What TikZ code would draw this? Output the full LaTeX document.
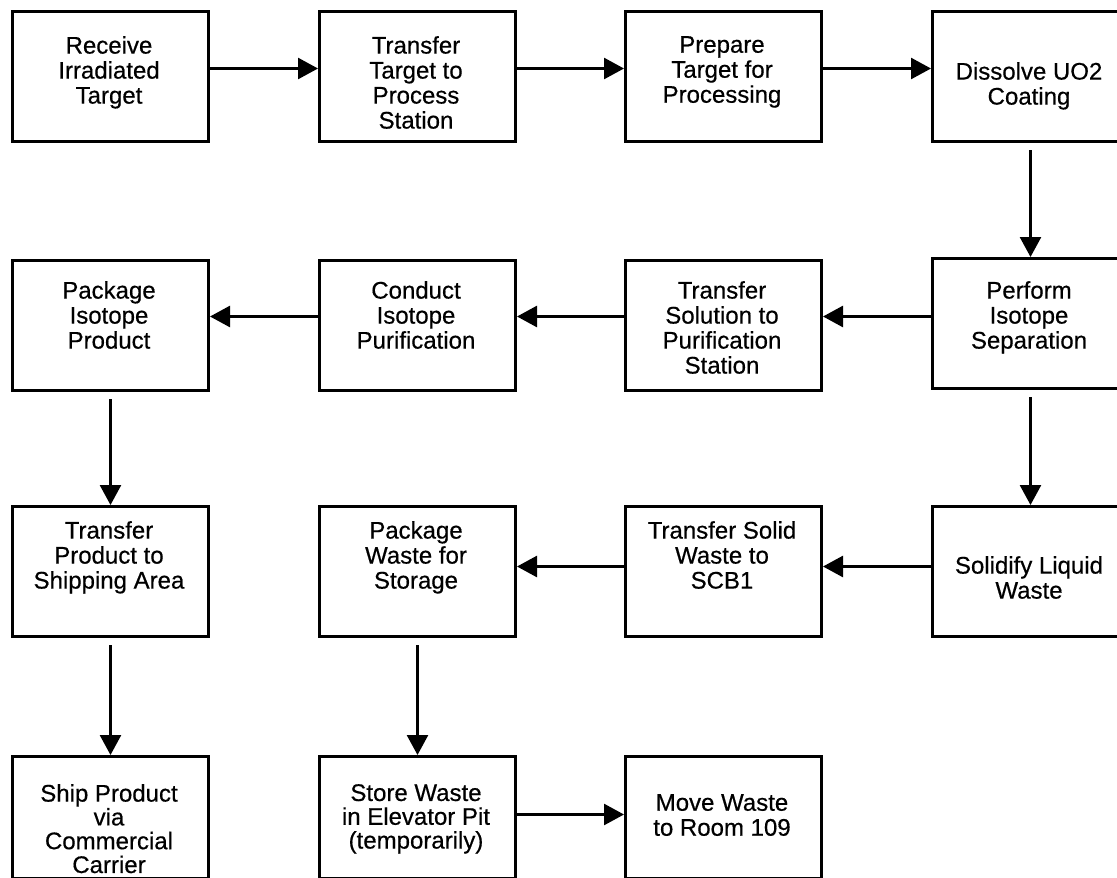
\documentclass[tikz,border=0pt]{standalone}
\usepackage{fontspec}
\setmainfont{Liberation Sans}[FakeBold=0.5]
\usetikzlibrary{arrows.meta}
\begin{document}
\begin{tikzpicture}[x=1pt,y=-1pt,
  box/.style={draw=black, line width=3pt, minimum width=196pt, minimum height=130pt, inner sep=0pt, anchor=north west},
  lastbox/.style={box, minimum height=122pt},
  txt/.style={font=\fontsize{24}{25}\selectfont, align=center, anchor=north, inner sep=0pt},
  tighttxt/.style={txt, font=\fontsize{24}{23.8}\selectfont},
  arr/.style={line width=2.6pt, -{Triangle[length=20pt,width=21pt]}},
  varr/.style={arr, shorten <=7pt}]
\useasboundingbox (0,0) rectangle (1117,878);
\clip (0,0) rectangle (1117,878);
% row 1
\node[box] (b11) at (11,10) {};
\node[box] (b12) at (318,10) {};
\node[box] (b13) at (624,10) {};
\node[box] (b14) at (931,10) {};
% row 2
\node[box] (b21) at (11,259) {};
\node[box] (b22) at (318,259) {};
\node[box] (b23) at (624,259) {};
\node[box] (b24) at (931,257) {};
% row 3
\node[box] (b31) at (11,505) {};
\node[box] (b32) at (318,505) {};
\node[box] (b33) at (624,505) {};
\node[box] (b34) at (931,505) {};
% row 4
\node[lastbox] (b41) at (11,755) {};
\node[lastbox] (b42) at (318,755) {};
\node[lastbox] (b43) at (624,755) {};
% texts
\node[txt] (t11) at (109,36) {Receive\\Irradiated\\Target};
\node[txt] (t12) at (416,36) {Transfer\\Target to\\Process\\Station};
\node[txt] (t13) at (722,36) {Prepare\\Target for\\Processing};
\node[txt] (t14) at (1029,62) {Dissolve UO2\\Coating};
\node[txt] (t21) at (109,281) {Package\\Isotope\\Product};
\node[txt] (t22) at (416,281) {Conduct\\Isotope\\Purification};
\node[txt] (t23) at (722,281) {Transfer\\Solution to\\Purification\\Station};
\node[txt] (t24) at (1029,281) {Perform\\Isotope\\Separation};
\node[txt] (t31) at (109,521) {Transfer\\Product to\\Shipping Area};
\node[txt] (t32) at (416,521) {Package\\Waste for\\Storage};
\node[txt] (t33) at (722,521) {Transfer Solid\\Waste to\\SCB1};
\node[txt] (t34) at (1029,556) {Solidify Liquid\\Waste};
\node[tighttxt] (t41) at (109,784) {Ship Product\\via\\Commercial\\Carrier};
\node[tighttxt] (t42) at (416,784) {Store Waste\\in Elevator Pit\\(temporarily)};
\node[txt] (t43) at (722,794) {Move Waste\\to Room 109};
% horizontal arrows
\draw[arr] ([yshift=8pt]b11.east) -- ([yshift=8pt]b12.west);
\draw[arr] ([yshift=8pt]b12.east) -- ([yshift=8pt]b13.west);
\draw[arr] ([yshift=8pt]b13.east) -- ([yshift=8pt]b14.west);
\draw[arr] ([yshift=7pt]b24.west) -- ([yshift=9pt]b23.east);
\draw[arr] ([yshift=9pt]b23.west) -- ([yshift=9pt]b22.east);
\draw[arr] ([yshift=9pt]b22.west) -- ([yshift=9pt]b21.east);
\draw[arr] ([yshift=5pt]b34.west) -- ([yshift=5pt]b33.east);
\draw[arr] ([yshift=5pt]b33.west) -- ([yshift=5pt]b32.east);
\draw[arr] ([yshift=3pt]b42.east) -- ([yshift=3pt]b43.west);
% vertical arrows
\draw[varr] (b14.south) -- (b24.north);
\draw[varr] (b21.south) -- (b31.north);
\draw[varr] (b24.south) -- (b34.north);
\draw[varr] (b31.south) -- (b41.north);
\draw[varr] (b32.south) -- (b42.north);
\end{tikzpicture}
\end{document}
